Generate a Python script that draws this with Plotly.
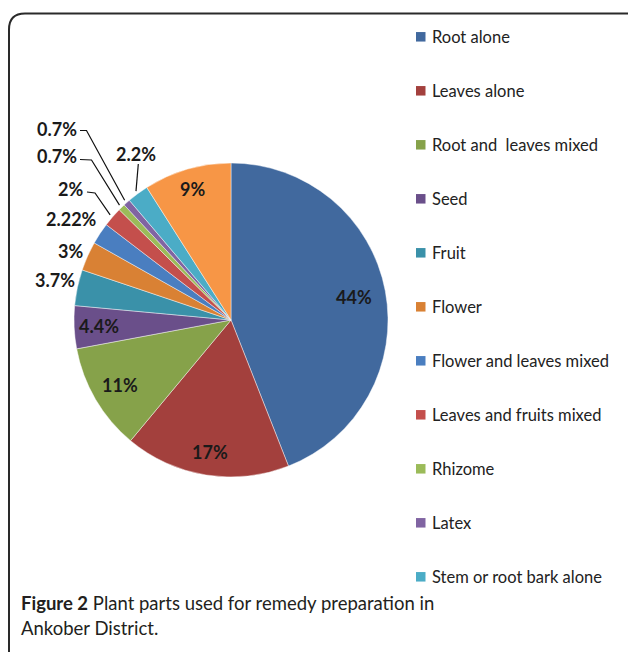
import math
import plotly.graph_objects as go

# ---------------- data ----------------
categories = ["Root alone", "Leaves alone", "Root and  leaves mixed", "Seed", "Fruit",
              "Flower", "Flower and leaves mixed", "Leaves and fruits mixed", "Rhizome",
              "Latex", "Stem or root bark alone", "Other (not in legend)"]
values = [44, 17, 11, 4.4, 3.7, 3, 2.22, 2, 0.7, 0.7, 2.2, 9]
value_labels = ["44%", "17%", "11%", "4.4%", "3.7%", "3%", "2.22%", "2%", "0.7%", "0.7%", "2.2%", "9%"]
legend_names = categories[:11]
colors = ["#41699E", "#A3403D", "#86A24A", "#6A4F8A", "#3A91A9", "#D98134",
          "#4A7EC0", "#C44F4C", "#9BBB59", "#8064A2", "#4BACC6", "#F79646"]

# ---------------- layout constants ----------------
W, H = 628, 652
CX, CY, R = 231, 320, 157   # pie centre / radius in pixels


def px(x):
    return x / W


def py(y):
    return 1 - y / H


fig = go.Figure()
fig.add_trace(go.Pie(
    labels=categories, values=values, sort=False, direction="clockwise", rotation=0,
    marker=dict(colors=colors, line=dict(color="rgba(255,255,255,0.55)", width=0.8)),
    textinfo="none", showlegend=False,
    domain=dict(x=[px(CX - R), px(CX + R)], y=[py(CY + R), py(CY - R)]),
    hovertemplate="%{label}: %{value}%<extra></extra>",
))

# slice mid angles (clockwise from 12 o'clock)
total = sum(values)
mids = []
acc = 0
for v in values:
    mids.append((acc + v / 2) / total * 2 * math.pi)
    acc += v


def polar(theta, r):
    return CX + r * math.sin(theta), CY - r * math.cos(theta)


annotations = []
shapes = []
label_font = dict(family="Lato", size=18, color="#1a1a1a")

# label placement: inside (radius fraction) or outside (text centre, leader elbow)
placement = {
    0: ("in", 0.8), 1: ("in", 0.85), 2: ("in", 0.82), 3: ("in", 0.84), 11: ("in", 0.87),
    4: ("out", (55, 280), None), 5: ("out", (70, 251), None), 6: ("out", (71, 219), None),
    7: ("out", (70.5, 189.5), [(87, 192), (95, 193)]),
    8: ("out", (57.5, 155.5), [(80, 159.5), (91.5, 160)]),
    9: ("out", (57.5, 129), [(80, 130.5), (86.5, 130.5)]),
    10: ("out", (136, 154), [(138.3, 164), (138.3, 164)]),
}
for i, lab in enumerate(value_labels):
    p = placement[i]
    if p[0] == "in":
        x, y = polar(mids[i], R * p[1])
    else:
        x, y = p[1]
        if p[2]:
            ex, ey = polar(mids[i], R * 1.02)
            pts = p[2] + [(ex, ey)]
            path = "M " + " L ".join(f"{px(a):.5f},{py(b):.5f}" for a, b in pts)
            shapes.append(dict(type="path", xref="paper", yref="paper", path=path,
                               line=dict(color="#111", width=1.2)))
    annotations.append(dict(x=px(x), y=py(y), xref="paper", yref="paper", text=f"<b>{lab}</b>",
                            showarrow=False, font=label_font, xanchor="center", yanchor="middle"))

# manual legend (the 12th slice has no visible legend entry)
LEG_X, LEG_Y0, LEG_DY, SQ = 416, 36.8, 54, 9.5
for i, name in enumerate(legend_names):
    yc = LEG_Y0 + i * LEG_DY
    shapes.append(dict(type="rect", xref="paper", yref="paper",
                       x0=px(LEG_X), x1=px(LEG_X + SQ), y0=py(yc + SQ / 2), y1=py(yc - SQ / 2),
                       fillcolor=colors[i], line=dict(width=0)))
    annotations.append(dict(x=px(LEG_X + 13.5), y=py(yc), xref="paper", yref="paper", text=name,
                            showarrow=False, xanchor="left", yanchor="middle",
                            font=dict(family="Lato", size=16.5, color="#222")))

# frame with rounded top-left corner
fx, fy, rad = 9, 13.5, 16
frame = (f"M {px(fx)},{py(H + 20)} L {px(fx)},{py(fy + rad)} "
         f"Q {px(fx)},{py(fy)} {px(fx + rad)},{py(fy)} L {px(W + 20)},{py(fy)}")
shapes.append(dict(type="path", xref="paper", yref="paper", path=frame,
                   line=dict(color="#2a2a2a", width=2)))

# caption
cap_font = dict(family="Lato", size=18.5, color="#231f20")
annotations.append(dict(x=px(19), y=py(603), xref="paper", yref="paper",
                        text="<b>Figure 2</b> Plant parts used for remedy preparation in",
                        showarrow=False, xanchor="left", yanchor="middle", font=cap_font))
annotations.append(dict(x=px(19), y=py(628), xref="paper", yref="paper",
                        text="Ankober District.",
                        showarrow=False, xanchor="left", yanchor="middle", font=cap_font))

fig.update_layout(width=W, height=H, margin=dict(l=0, r=0, t=0, b=0),
                  paper_bgcolor="white", plot_bgcolor="white",
                  annotations=annotations, shapes=shapes)
fig.write_html("out.html", config={"displayModeBar": False},
               post_script="document.body.style.margin='0';document.body.style.overflow='hidden';")
